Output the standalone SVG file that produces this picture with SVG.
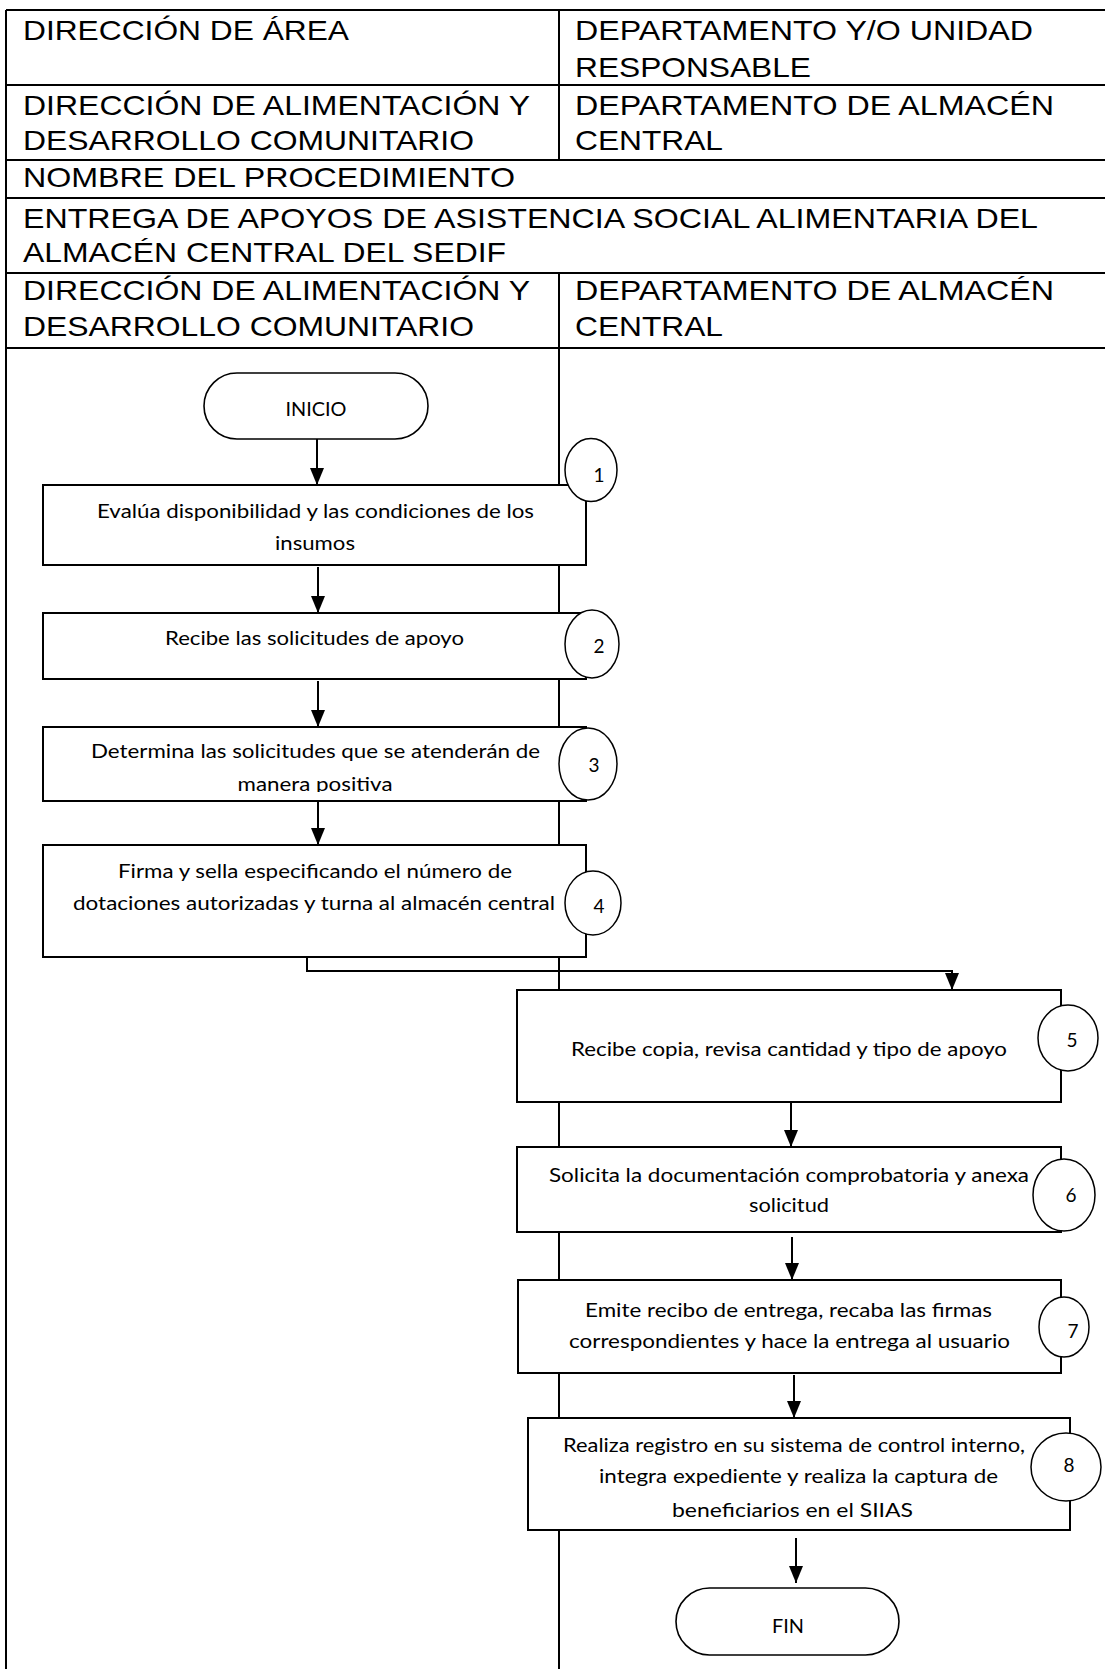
<svg xmlns="http://www.w3.org/2000/svg" width="1105" height="1669" viewBox="0 0 1105 1669">
<style>
.hd{font-family:"Liberation Sans",Arial,sans-serif;font-size:28px;fill:#000}
.tx{font-family:Lato,"Open Sans",sans-serif;font-size:18.5px;fill:#000;text-anchor:middle}
.num{font-family:Lato,"Open Sans",sans-serif;font-size:19px;fill:#000;text-anchor:middle}
.grid{stroke:#000;stroke-width:2;fill:none}
.box{fill:#fff;stroke:#000;stroke-width:2}
.term{fill:#fff;stroke:#000;stroke-width:1.6}
.ell{fill:#fff;stroke:#000;stroke-width:1.5}
.con{stroke:#000;stroke-width:2;fill:none;marker-end:url(#arr)}
</style>
<defs>
<marker id="arr" markerUnits="userSpaceOnUse" markerWidth="17" markerHeight="14" viewBox="0 0 17 14" refX="17" refY="7" orient="auto">
<path d="M0,0 L17,7 L0,14 z" fill="#000"/>
</marker>
<clipPath id="clip3"><rect x="44" y="728" width="540" height="64"/></clipPath>
</defs>
<rect width="1105" height="1669" fill="#fff"/>
<g id="header">
<path class="grid" d="M6,10 H1105 M6,85 H1105 M6,160 H1105 M6,198 H1105 M6,273 H1105 M6,348 H1105 M6,10 V1669 M559,10 V160 M559,273 V1669"/>
<text class="hd" x="23" y="40" textLength="326" lengthAdjust="spacingAndGlyphs">DIRECCIÓN DE ÁREA</text>
<text class="hd" x="575" y="40" textLength="458" lengthAdjust="spacingAndGlyphs">DEPARTAMENTO Y/O UNIDAD</text>
<text class="hd" x="575" y="77" textLength="236" lengthAdjust="spacingAndGlyphs">RESPONSABLE</text>
<text class="hd" x="23" y="115" textLength="507" lengthAdjust="spacingAndGlyphs">DIRECCIÓN DE ALIMENTACIÓN Y</text>
<text class="hd" x="23" y="150" textLength="451" lengthAdjust="spacingAndGlyphs">DESARROLLO COMUNITARIO</text>
<text class="hd" x="575" y="115" textLength="479" lengthAdjust="spacingAndGlyphs">DEPARTAMENTO DE ALMACÉN</text>
<text class="hd" x="575" y="150" textLength="148" lengthAdjust="spacingAndGlyphs">CENTRAL</text>
<text class="hd" x="23" y="187" textLength="492" lengthAdjust="spacingAndGlyphs">NOMBRE DEL PROCEDIMIENTO</text>
<text class="hd" x="23" y="228" textLength="1015" lengthAdjust="spacingAndGlyphs">ENTREGA DE APOYOS DE ASISTENCIA SOCIAL ALIMENTARIA DEL</text>
<text class="hd" x="23" y="262" textLength="483" lengthAdjust="spacingAndGlyphs">ALMACÉN CENTRAL DEL SEDIF</text>
<text class="hd" x="23" y="300" textLength="507" lengthAdjust="spacingAndGlyphs">DIRECCIÓN DE ALIMENTACIÓN Y</text>
<text class="hd" x="23" y="336" textLength="451" lengthAdjust="spacingAndGlyphs">DESARROLLO COMUNITARIO</text>
<text class="hd" x="575" y="300" textLength="479" lengthAdjust="spacingAndGlyphs">DEPARTAMENTO DE ALMACÉN</text>
<text class="hd" x="575" y="336" textLength="148" lengthAdjust="spacingAndGlyphs">CENTRAL</text>
</g>
<g id="connectors">
<line class="con" x1="317" y1="439" x2="317" y2="485"/>
<line class="con" x1="318" y1="567" x2="318" y2="613"/>
<line class="con" x1="318" y1="681" x2="318" y2="727"/>
<line class="con" x1="318" y1="801" x2="318" y2="845"/>
<polyline class="con" points="307,957 307,971 952,971 952,990"/>
<line class="con" x1="791" y1="1102" x2="791" y2="1147"/>
<line class="con" x1="792" y1="1237" x2="792" y2="1280"/>
<line class="con" x1="794" y1="1375" x2="794" y2="1418"/>
<line class="con" x1="796" y1="1538" x2="796" y2="1583"/>
</g>
<g id="inicio">
<rect class="term" x="204" y="373" width="224" height="66" rx="33" ry="33"/>
<text class="tx" x="316" y="416" textLength="61" lengthAdjust="spacingAndGlyphs">INICIO</text>
</g>
<g id="step1">
<rect class="box" x="43" y="485" width="543" height="80"/>
<text class="tx" x="315.5" y="518" textLength="437" lengthAdjust="spacingAndGlyphs">Evalúa disponibilidad y las condiciones de los</text>
<text class="tx" x="315" y="550" textLength="80" lengthAdjust="spacingAndGlyphs">insumos</text>
<ellipse class="ell" cx="591" cy="470" rx="26" ry="31.5"/>
<text class="num" x="599" y="482">1</text>
</g>
<g id="step2">
<rect class="box" x="43" y="613" width="543" height="66"/>
<text class="tx" x="314.5" y="645" textLength="299" lengthAdjust="spacingAndGlyphs">Recibe las solicitudes de apoyo</text>
<ellipse class="ell" cx="592" cy="644" rx="27" ry="34"/>
<text class="num" x="599" y="653">2</text>
</g>
<g id="step3">
<rect class="box" x="43" y="727" width="543" height="74"/>
<g clip-path="url(#clip3)">
<text class="tx" x="315.5" y="758" textLength="449" lengthAdjust="spacingAndGlyphs">Determina las solicitudes que se atenderán de</text>
<text class="tx" x="315" y="791" textLength="155" lengthAdjust="spacingAndGlyphs">manera positiva</text>
</g>
<ellipse class="ell" cx="588" cy="764" rx="29" ry="36"/>
<text class="num" x="594" y="772">3</text>
</g>
<g id="step4">
<rect class="box" x="43" y="845" width="543" height="112"/>
<text class="tx" x="315" y="878" textLength="394" lengthAdjust="spacingAndGlyphs">Firma y sella especificando el número de</text>
<text class="tx" x="314" y="910" textLength="482" lengthAdjust="spacingAndGlyphs">dotaciones autorizadas y turna al almacén central</text>
<ellipse class="ell" cx="593" cy="903" rx="28" ry="32"/>
<text class="num" x="599" y="913">4</text>
</g>
<g id="step5">
<rect class="box" x="517" y="990" width="544" height="112"/>
<text class="tx" x="789" y="1056" textLength="436" lengthAdjust="spacingAndGlyphs">Recibe copia, revisa cantidad y tipo de apoyo</text>
<ellipse class="ell" cx="1068" cy="1038" rx="30" ry="33"/>
<text class="num" x="1072" y="1047">5</text>
</g>
<g id="step6">
<rect class="box" x="517" y="1147" width="544" height="85"/>
<text class="tx" x="789" y="1182" textLength="480" lengthAdjust="spacingAndGlyphs">Solicita la documentación comprobatoria y anexa</text>
<text class="tx" x="789" y="1212" textLength="80" lengthAdjust="spacingAndGlyphs">solicitud</text>
<ellipse class="ell" cx="1064" cy="1195" rx="31" ry="36"/>
<text class="num" x="1071" y="1202">6</text>
</g>
<g id="step7">
<rect class="box" x="518" y="1280" width="543" height="93"/>
<text class="tx" x="788.5" y="1317" textLength="407" lengthAdjust="spacingAndGlyphs">Emite recibo de entrega, recaba las firmas</text>
<text class="tx" x="789.5" y="1348" textLength="441" lengthAdjust="spacingAndGlyphs">correspondientes y hace la entrega al usuario</text>
<ellipse class="ell" cx="1064" cy="1327" rx="25" ry="30"/>
<text class="num" x="1073" y="1338">7</text>
</g>
<g id="step8">
<rect class="box" x="528" y="1418" width="542" height="112"/>
<text class="tx" x="794" y="1452" textLength="462" lengthAdjust="spacingAndGlyphs">Realiza registro en su sistema de control interno,</text>
<text class="tx" x="798.5" y="1483" textLength="399" lengthAdjust="spacingAndGlyphs">integra expediente y realiza la captura de</text>
<text class="tx" x="792.5" y="1517" textLength="241" lengthAdjust="spacingAndGlyphs">beneficiarios en el SIIAS</text>
<ellipse class="ell" cx="1066" cy="1467" rx="35" ry="34"/>
<text class="num" x="1069" y="1472">8</text>
</g>
<g id="fin">
<rect class="term" x="676" y="1588" width="223" height="67" rx="33.5" ry="33.5"/>
<text class="tx" x="788" y="1633" textLength="32" lengthAdjust="spacingAndGlyphs">FIN</text>
</g>
</svg>
